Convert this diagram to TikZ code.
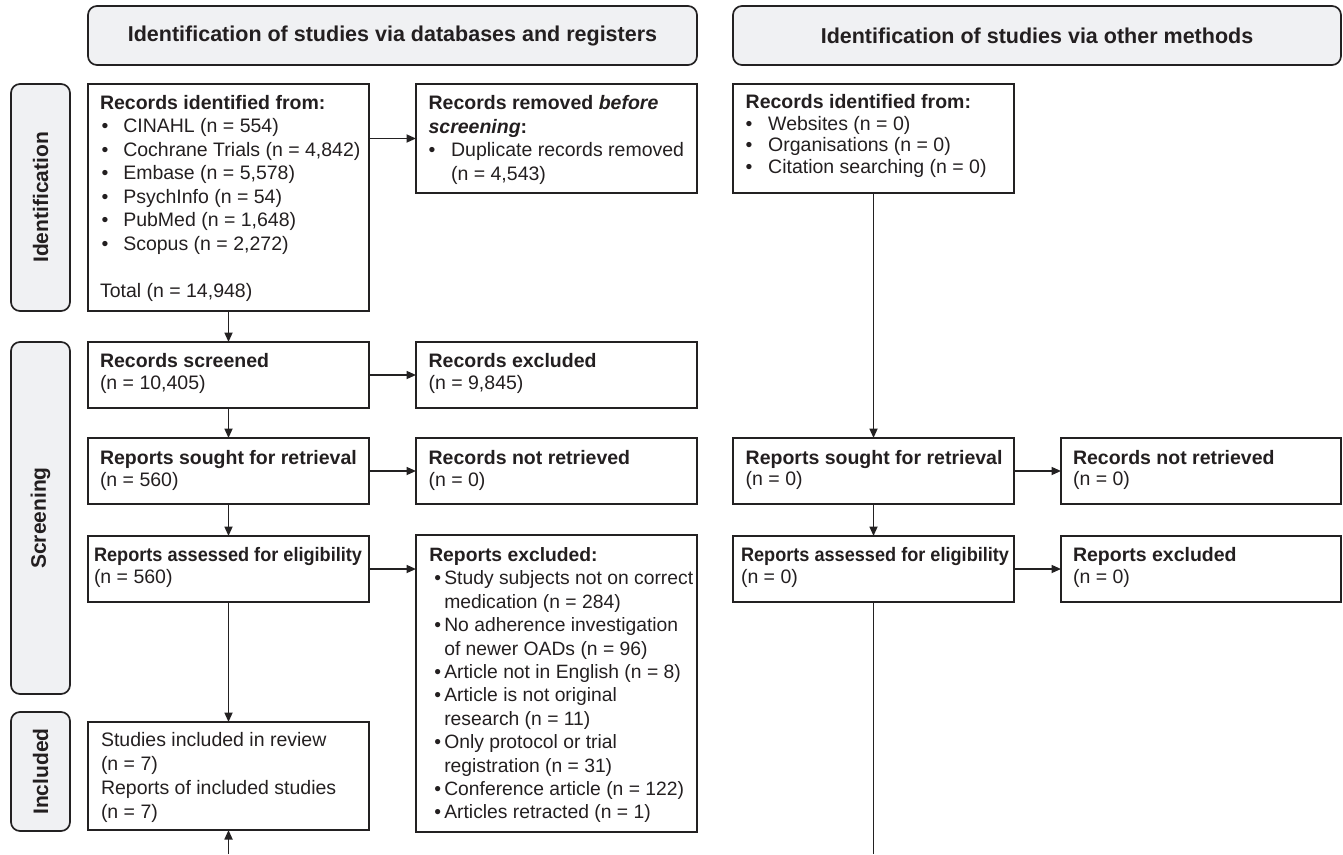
\documentclass[tikz,border=0pt]{standalone}
\usepackage{fontspec}
\setmainfont{Liberation Sans}
\usepackage{graphicx}
\usetikzlibrary{arrows.meta,calc}
\definecolor{linec}{RGB}{35,33,34}
\definecolor{txtc}{RGB}{35,31,32}
\definecolor{hdrfill}{RGB}{240,241,243}
\newcommand{\fstrut}{\rule{0pt}{16pt}}
\newcommand{\bulA}{\makebox[23.3pt][l]{\hspace{1.6pt}•}}
\newcommand{\bulB}{\makebox[15pt][l]{\hspace{5pt}•}}
\newcommand{\bulC}{\makebox[22.5pt][l]{\hspace{0pt}•}}
\newcommand{\indB}{\hspace*{15pt}}
\newcommand{\indC}{\hspace*{22.5pt}}
\begin{document}
\begin{tikzpicture}[x=1pt,y=-1pt,
  box/.style={draw=linec, line width=1.7pt, anchor=north west, inner sep=0pt, outer sep=0pt},
  rbox/.style={draw=linec, fill=hdrfill, line width=1.7pt, rounded corners=9pt, anchor=north west, inner sep=0pt, outer sep=0pt},
  txt/.style={anchor=north west, inner sep=0pt, outer sep=0pt, align=left, text=txtc, font=\fontsize{19.5}{23.5}\selectfont},
  txts/.style={txt, font=\fontsize{19.5}{22}\selectfont},
  txtr/.style={txt, font=\fontsize{19.5}{21.7}\selectfont},
  hdrtxt/.style={text=txtc, inner sep=0pt, font=\fontsize{21.5}{26}\selectfont\bfseries},
  lbltxt/.style={text=txtc, inner sep=0pt, font=\fontsize{21}{25}\selectfont\bfseries, rotate=90},
  arr/.style={draw=linec, line width=1.7pt, -{Triangle[length=9.5pt,width=8pt]}},
  ln/.style={draw=linec, line width=1.7pt}]
\useasboundingbox (0,0) rectangle (1343,854);

% headers
\node[rbox, minimum width=609pt, minimum height=59pt] (h1) at (88,6) {};
\node[hdrtxt] (h1t) at (h1.center) {Identification of studies via databases and registers};
\node[rbox, minimum width=608pt, minimum height=59pt] (h2) at (733,6) {};
\node[hdrtxt] (h2t) at (h2.center) {Identification of studies via other methods};

% side labels
\node[rbox, minimum width=59pt, minimum height=227pt] (l1) at (11,84) {};
\node[lbltxt] (l1t) at (l1.center) {Identification};
\node[rbox, minimum width=59pt, minimum height=352pt] (l2) at (11,342) {};
\node[lbltxt] (l2t) at (l2.center) {Screening};
\node[rbox, minimum width=59pt, minimum height=119pt] (l3) at (11,712) {};
\node[lbltxt] (l3t) at (l3.center) {Included};

% left column
\node[box, minimum width=281pt, minimum height=227pt] (rid) at (88,84) {};
\node[txt] (ridt) at ($(rid.north west)+(12,9.3)$) {\fstrut\textbf{Records identified from:}\\
\bulA CINAHL (n = 554)\\
\bulA Cochrane Trials (n = 4,842)\\
\bulA Embase (n = 5,578)\\
\bulA PsychInfo (n = 54)\\
\bulA PubMed (n = 1,648)\\
\bulA Scopus (n = 2,272)\\[23.5pt]
Total (n = 14,948)};

\node[box, minimum width=281pt, minimum height=66pt] (scr) at (88,342) {};
\node[txts] (scrt) at ($(scr.north west)+(12,9.3)$) {\fstrut\textbf{Records screened}\\(n = 10,405)};

\node[box, minimum width=281pt, minimum height=66pt] (sought) at (88,438) {};
\node[txts] (soughtt) at ($(sought.north west)+(12,10)$) {\fstrut\textbf{Reports sought for retrieval}\\(n = 560)};

\node[box, minimum width=281pt, minimum height=66pt] (assessed) at (88,536) {};
\node[txts] (assessedt) at ($(assessed.north west)+(6,9.7)$) {\fstrut\scalebox{0.93}[1]{\textbf{Reports assessed for eligibility}}\\(n = 560)};

\node[box, minimum width=281pt, minimum height=108pt] (incl) at (88,722) {};
\node[txt, font=\fontsize{19.5}{23.9}\selectfont] (inclt) at ($(incl.north west)+(13,8.7)$) {\fstrut Studies included in review\\(n = 7)\\Reports of included studies\\(n = 7)};

% middle column
\node[box, minimum width=281pt, minimum height=109pt] (removed) at (416,84) {};
\node[txt, font=\fontsize{19.5}{23.7}\selectfont] (removedt) at ($(removed.north west)+(12.6,9.3)$) {\fstrut\textbf{Records removed \textit{before}}\\
\textbf{\textit{screening}:}\\
\bulC Duplicate records removed\\
\indC(n = 4,543)};

\node[box, minimum width=281pt, minimum height=66pt] (excl) at (416,342) {};
\node[txts] (exclt) at ($(excl.north west)+(12.6,9.3)$) {\fstrut\textbf{Records excluded}\\(n = 9,845)};

\node[box, minimum width=281pt, minimum height=66pt] (notret) at (416,438) {};
\node[txts] (notrett) at ($(notret.north west)+(12.6,10)$) {\fstrut\textbf{Records not retrieved}\\(n = 0)};

\node[box, minimum width=281pt, minimum height=297pt] (repexcl) at (416,535) {};
\node[txt, font=\fontsize{19.3}{23.4}\selectfont] (repexclt) at ($(repexcl.north west)+(13.3,10.5)$) {\fstrut\textbf{Reports excluded:}\\
\bulB Study subjects not on correct\\
\indB medication (n = 284)\\
\bulB No adherence investigation\\
\indB of newer OADs (n = 96)\\
\bulB Article not in English (n = 8)\\
\bulB Article is not original\\
\indB research (n = 11)\\
\bulB Only protocol or trial\\
\indB registration (n = 31)\\
\bulB Conference article (n = 122)\\
\bulB Articles retracted (n = 1)};

% right column
\node[box, minimum width=281pt, minimum height=109pt] (rid2) at (733,84) {};
\node[txtr] (rid2t) at ($(rid2.north west)+(12.7,8.3)$) {\fstrut\textbf{Records identified from:}\\
\bulC Websites (n = 0)\\
\bulC Organisations (n = 0)\\
\bulC Citation searching (n = 0)};

\node[box, minimum width=281pt, minimum height=66pt] (sought2) at (733,438) {};
\node[txtr] (sought2t) at ($(sought2.north west)+(12.7,10)$) {\fstrut\textbf{Reports sought for retrieval}\\(n = 0)};

\node[box, minimum width=281pt, minimum height=66pt] (assessed2) at (733,536) {};
\node[txtr] (assessed2t) at ($(assessed2.north west)+(8,9.7)$) {\fstrut\scalebox{0.93}[1]{\textbf{Reports assessed for eligibility}}\\(n = 0)};

\node[box, minimum width=280pt, minimum height=66pt] (notret2) at (1061,438) {};
\node[txtr] (notret2t) at ($(notret2.north west)+(12,10)$) {\fstrut\textbf{Records not retrieved}\\(n = 0)};

\node[box, minimum width=280pt, minimum height=66pt] (repexcl2) at (1061,536) {};
\node[txtr] (repexcl2t) at ($(repexcl2.north west)+(12,9.7)$) {\fstrut\textbf{Reports excluded}\\(n = 0)};

% connectors
\draw[arr] (rid.east |- removed.west) -- (removed.west);
\draw[arr] (rid.south) -- (scr.north);
\draw[arr] (scr.east) -- (excl.west);
\draw[arr] (scr.south) -- (sought.north);
\draw[arr] (sought.east) -- (notret.west);
\draw[arr] (sought.south) -- (assessed.north);
\draw[arr] (assessed.east) -- (assessed.east -| repexcl.west);
\draw[arr] (assessed.south) -- (incl.north);
\coordinate (bot1) at (incl.south |- 0,854);
\draw[arr] (bot1) -- (incl.south);

\draw[arr] (rid2.south) -- (sought2.north);
\draw[arr] (sought2.east) -- (notret2.west);
\draw[arr] (sought2.south) -- (assessed2.north);
\draw[arr] (assessed2.east) -- (repexcl2.west);
\coordinate (bot2) at (assessed2.south |- 0,854);
\draw[ln] (assessed2.south) -- (bot2);
\end{tikzpicture}
\end{document}
